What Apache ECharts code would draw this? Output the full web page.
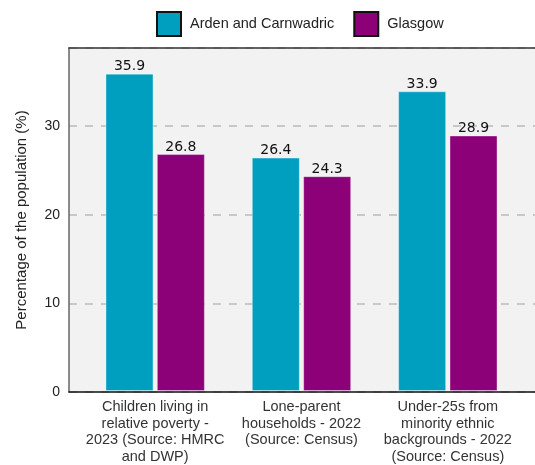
<!DOCTYPE html>
<html><head><meta charset="utf-8">
<style>html,body{margin:0;padding:0;background:#fff}#c{width:535px;height:465px}</style>
<script src="https://cdn.jsdelivr.net/npm/echarts@6/dist/echarts.min.js"></script>
</head><body><div id="c"></div>
<script>
var categories = ["Children living in\nrelative poverty -\n2023 (Source: HMRC\nand DWP)", "Lone-parent\nhouseholds - 2022\n(Source: Census)", "Under-25s from\nminority ethnic\nbackgrounds - 2022\n(Source: Census)"];
var seriesNames = ["Arden and Carnwadric", "Glasgow"];
var ardenValues = [35.9, 26.4, 33.9];
var glasgowValues = [26.8, 24.3, 28.9];
var yTicks = [0, 10, 20, 30];
var yMax = 38.8;

var chart = echarts.init(document.getElementById('c'), null, {renderer:'canvas'});
var sans = '"Liberation Sans", Arial, sans-serif';
var labelCfg = {show:true, position:'top', distance:0, fontFamily:'"DejaVu Sans", sans-serif', fontSize:14, color:'#111'};
chart.setOption({
  animation:false,
  legend:{
    top:11, left:156, padding:0, itemWidth:24, itemHeight:24, itemGap:19,
    icon:'rect',
    textStyle:{fontFamily:sans, fontSize:14.5, color:'#222', padding:[0,0,0,4]},
    itemStyle:{borderColor:'#111', borderWidth:2},
    data:seriesNames
  },
  grid:[
    {left:69, right:0, top:48, bottom:73, show:true, backgroundColor:'#f2f2f2', borderWidth:0},
    {left:82, width:439, top:48, bottom:73}
  ],
  xAxis:[
    {type:'value', gridIndex:0, min:0, max:1, position:'bottom', z:5, axisLine:{show:true, onZero:false, lineStyle:{color:'#111', width:1.5}}, axisTick:{show:false}, axisLabel:{show:false}, splitLine:{show:false}},
    {type:'value', gridIndex:0, min:0, max:1, position:'top', z:5, axisLine:{show:true, onZero:false, lineStyle:{color:'#333', width:1.5}}, axisTick:{show:false}, axisLabel:{show:false}, splitLine:{show:false}},
    {type:'category', gridIndex:1, data:categories, axisLine:{show:false}, axisTick:{show:false},
     axisLabel:{fontFamily:sans, fontSize:14.5, color:'#333', lineHeight:16.5, margin:8, interval:0}}
  ],
  yAxis:[
    {type:'value', gridIndex:0, min:0, max:yMax, interval:10,
     axisLine:{show:true, lineStyle:{color:'#666', width:1.5}}, axisTick:{show:false},
     axisLabel:{fontFamily:sans, fontSize:14, color:'#222', margin:9, formatter:function(v){return yTicks.indexOf(v)>=0? String(v):'';}},
     splitLine:{show:true, lineStyle:{color:'#c8c8c8', width:2, type:[8,8]}},
     name:'Percentage of the population (%)', nameLocation:'middle', nameGap:40, nameRotate:90,
     nameTextStyle:{fontFamily:sans, fontSize:15, color:'#222'}},
    {type:'value', gridIndex:1, min:0, max:yMax, show:false}
  ],
  series:[
    {name:seriesNames[0], type:'bar', xAxisIndex:2, yAxisIndex:1, data:ardenValues, barWidth:48, barGap:'7%',
     itemStyle:{color:'#009ebf', borderColor:'rgba(255,255,255,0.35)', borderWidth:1}, label:labelCfg},
    {name:seriesNames[1], type:'bar', xAxisIndex:2, yAxisIndex:1, data:glasgowValues, barWidth:48, barGap:'7%',
     itemStyle:{color:'#8c0078', borderColor:'rgba(255,255,255,0.35)', borderWidth:1}, label:labelCfg}
  ]
});
</script></body></html>
